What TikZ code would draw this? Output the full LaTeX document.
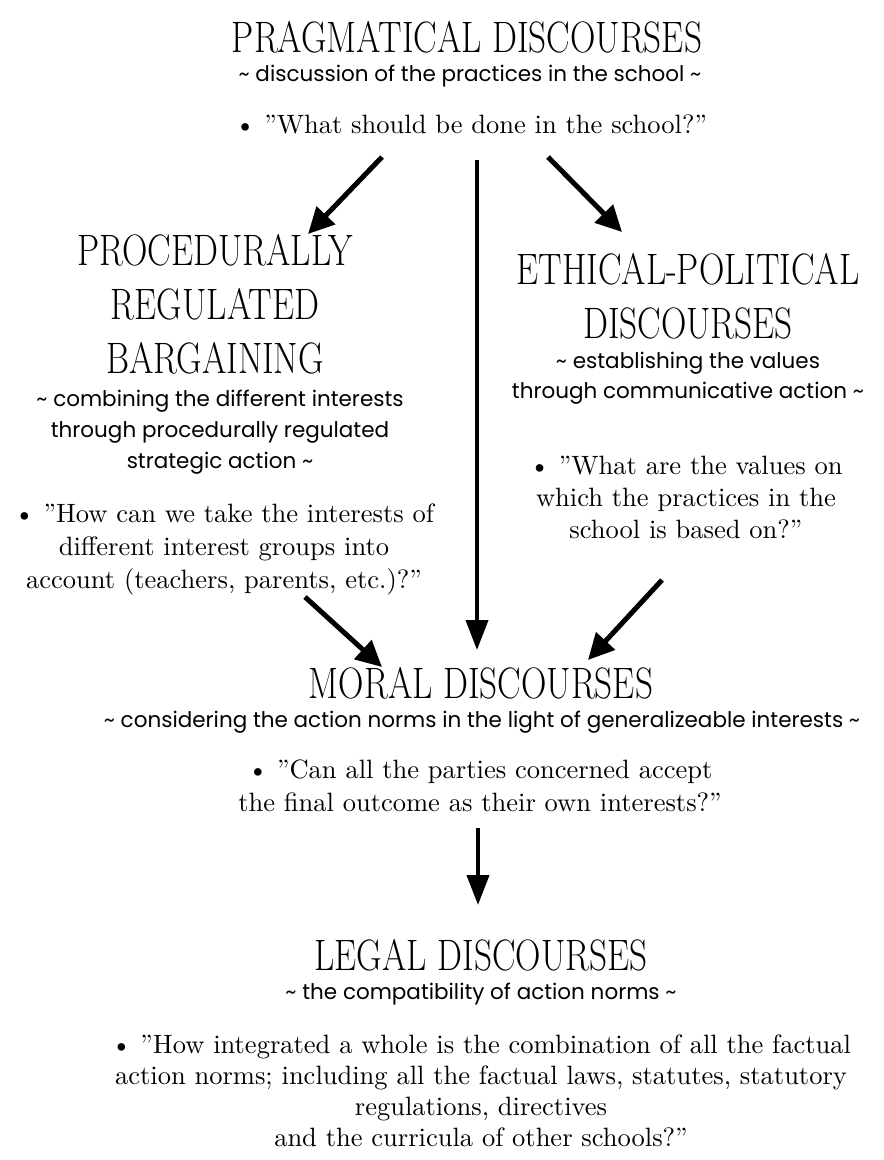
\documentclass[tikz,border=0pt]{standalone}
\usepackage{fontspec}
\usetikzlibrary{arrows.meta}
% Condensed display capitals for the discourse headings
\newfontfamily\headfont[FakeStretch=0.80]{lmroman17-regular.otf}
% Geometric sans for the descriptive lines
\newfontfamily\descfont{Poppins}
% Book face for the guiding questions
\newfontfamily\askfont{lmroman10-regular.otf}

\begin{document}
\begin{tikzpicture}[x=1pt,y=-1pt,
  heading/.style={font=\headfont\fontsize{44}{54}\selectfont, align=center, anchor=base, inner sep=0pt},
  desc/.style={font=\descfont\fontsize{21.5}{31}\selectfont, align=center, anchor=base, inner sep=0pt},
  ask/.style={font=\askfont\fontsize{26.5}{33}\selectfont, align=center, anchor=base, inner sep=0pt},
  slantarrow/.style={line width=5pt, -{Triangle[length=26pt,width=25pt]}},
  droparrow/.style={line width=4pt, -{Triangle[length=30pt,width=22pt]}}]
\useasboundingbox (0,0) rectangle (884,1160);

% Pragmatical discourses (anchors sit on the last line's baseline)
\node[heading] (prag) at (467,52) {PRAGMATICAL DISCOURSES};
\node[desc] (pragdesc) at (470,81) {\textasciitilde{} discussion of the practices in the school \textasciitilde};
\node[ask] (pragask) at (471,133) {\textbullet{} ”What should be done in the school?”};

% Procedurally regulated bargaining
\node[heading] (proc) at (215,373) {PROCEDURALLY\\REGULATED\\BARGAINING};
\node[desc] (procdesc) at (220,468) {\textasciitilde{} combining the different interests\\through procedurally regulated\\strategic action \textasciitilde};
\node[ask] (procask) at (224,588) {\textbullet{} ”How can we take the interests of\\different interest groups into\\account (teachers, parents, etc.)?”};

% Ethical-political discourses
\node[heading] (eth) at (688,338) {ETHICAL-POLITICAL\\DISCOURSES};
\node[desc, font=\descfont\fontsize{21.5}{30}\selectfont] (ethdesc) at (688,398) {\textasciitilde{} establishing the values\\through communicative action \textasciitilde};
\node[ask, font=\askfont\fontsize{26.5}{32}\selectfont] (ethask) at (686,538) {\textbullet{} ”What are the values on\\which the practices in the\\school is based on?”};

% Moral discourses
\node[heading] (moral) at (481,698) {MORAL DISCOURSES};
\node[desc] (moraldesc) at (482,727) {\textasciitilde{} considering the action norms in the light of generalizeable interests \textasciitilde};
\node[ask] (moralask) at (480,811) {\textbullet{} ”Can all the parties concerned accept\\the final outcome as their own interests?”};

% Legal discourses
\node[heading] (legal) at (481,970) {LEGAL DISCOURSES};
\node[desc] (legaldesc) at (481,999) {\textasciitilde{} the compatibility of action norms \textasciitilde};
\node[ask, font=\askfont\fontsize{26.5}{31}\selectfont] (legalask) at (481,1146) {\textbullet{} ”How integrated a whole is the combination of all the factual\\action norms; including all the factual laws, statutes, statutory\\regulations, directives\\and the curricula of other schools?”};

% Arrow end points
\coordinate (pl0) at (382,157);  \coordinate (pl1) at (308,234);
\coordinate (pm0) at (477,160);  \coordinate (pm1) at (477,650);
\coordinate (pr0) at (548,157);  \coordinate (pr1) at (622,232);
\coordinate (bl0) at (305,597);  \coordinate (bl1) at (382,667);
\coordinate (er0) at (662,580);  \coordinate (er1) at (588,660);
\coordinate (md0) at (478,828);  \coordinate (md1) at (478,905);

\draw[slantarrow] (pl0) -- (pl1);
\draw[droparrow] (pm0) -- (pm1);
\draw[slantarrow] (pr0) -- (pr1);
\draw[slantarrow] (bl0) -- (bl1);
\draw[slantarrow] (er0) -- (er1);
\draw[droparrow] (md0) -- (md1);
\end{tikzpicture}
\end{document}
